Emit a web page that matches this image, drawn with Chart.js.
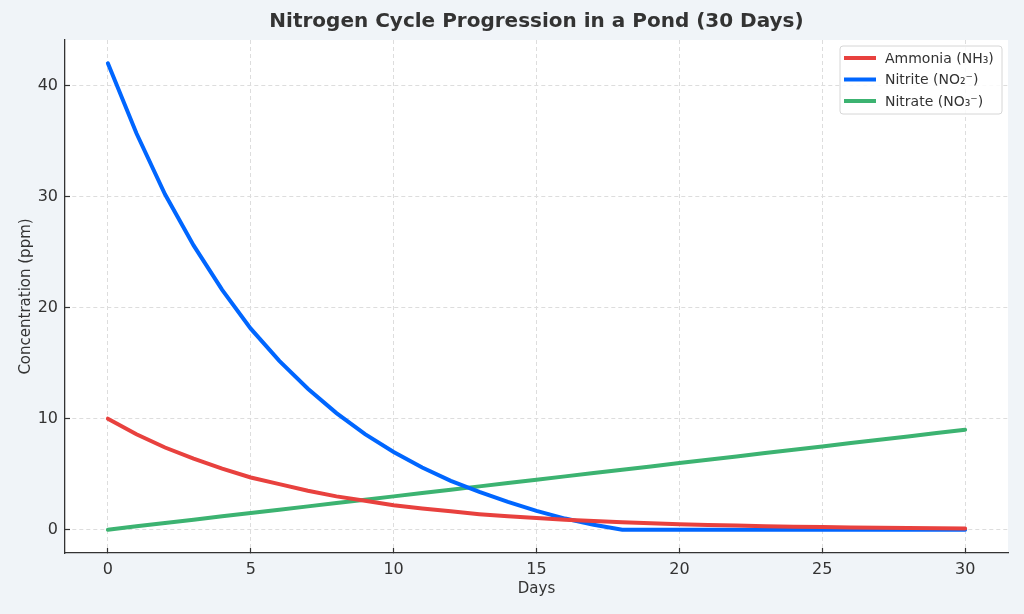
<!DOCTYPE html>
<html>
<head>
<meta charset="utf-8">
<script src="https://cdn.jsdelivr.net/npm/chart.js@4"></script>
<style>
  html, body { margin: 0; padding: 0; background: #f0f4f8; }
  #wrap { width: 1024px; height: 614px; }
</style>
</head>
<body>
<div id="wrap"><canvas id="nitrogenChart" width="1024" height="614"></canvas></div>
<script>
// Nitrogen cycle in a pond over 30 days, concentrations in ppm
const days = [0, 1, 2, 3, 4, 5, 6, 7, 8, 9, 10, 11, 12, 13, 14, 15, 16, 17, 18, 19, 20,
              21, 22, 23, 24, 25, 26, 27, 28, 29, 30];
const ammonia = [10.0, 8.6, 7.4, 6.4, 5.5, 4.7, 4.1, 3.5, 3.0, 2.6, 2.2, 1.9, 1.65, 1.4, 1.2, 1.05,
                 0.9, 0.78, 0.67, 0.57, 0.5, 0.43, 0.37, 0.32, 0.27, 0.24, 0.2, 0.17, 0.15, 0.13, 0.11];
const nitrite = [42.0, 35.7, 30.2, 25.6, 21.6, 18.1, 15.2, 12.7, 10.5, 8.6, 7.0, 5.6, 4.4, 3.4, 2.5, 1.7,
                 1.0, 0.45, 0, 0, 0, 0, 0, 0, 0, 0, 0, 0, 0, 0, 0];
const nitrate = [0, 0.3, 0.6, 0.9, 1.2, 1.5, 1.8, 2.1, 2.4, 2.7, 3.0, 3.3, 3.6, 3.9, 4.2, 4.5,
                 4.8, 5.1, 5.4, 5.7, 6.0, 6.3, 6.6, 6.9, 7.2, 7.5, 7.8, 8.1, 8.4, 8.7, 9.0];
const xTicks = [0, 5, 10, 15, 20, 25, 30];
const yTicks = [0, 10, 20, 30, 40];

const toPoints = vals => vals.map((v, i) => ({ x: days[i], y: v }));

// white plot area, title and an in-plot legend (matplotlib look)
const decor = {
    id: 'decor',
    beforeDraw(chart) {
        const { ctx, chartArea: a } = chart;
        ctx.save();
        ctx.fillStyle = '#ffffff';
        ctx.fillRect(a.left, a.top, a.right - a.left, a.bottom - a.top);
        ctx.restore();
    },
    afterDraw(chart) {
        const { ctx, chartArea: a } = chart;
        ctx.save();
        ctx.fillStyle = '#333333';
        ctx.font = 'bold 20px "DejaVu Sans"';
        ctx.textAlign = 'center';
        ctx.textBaseline = 'middle';
        ctx.fillText('Nitrogen Cycle Progression in a Pond (30 Days)', (a.left + a.right) / 2, 22);

        // legend box
        const bx = a.right - 168, by = a.top + 6, bw = 162, bh = 68;
        ctx.beginPath();
        ctx.roundRect(bx, by, bw, bh, 3);
        ctx.fillStyle = 'rgba(255,255,255,0.85)';
        ctx.fill();
        ctx.strokeStyle = '#d6d6d6';
        ctx.lineWidth = 1;
        ctx.stroke();
        ctx.font = '14px "DejaVu Sans"';
        ctx.textAlign = 'left';
        chart.data.datasets.forEach((ds, i) => {
            const y = by + 12 + i * 21.5;
            ctx.strokeStyle = ds.borderColor;
            ctx.lineWidth = 4;
            ctx.beginPath();
            ctx.moveTo(bx + 4, y);
            ctx.lineTo(bx + 36, y);
            ctx.stroke();
            ctx.fillStyle = '#333333';
            ctx.fillText(ds.label, bx + 45, y + 1);
        });
        ctx.restore();
    }
};

new Chart(document.getElementById('nitrogenChart'), {
    type: 'line',
    data: {
        datasets: [{
            label: 'Ammonia (NH₃)',
            data: toPoints(ammonia),
            borderColor: '#e8413e',
            borderWidth: 4
        }, {
            label: 'Nitrite (NO₂⁻)',
            data: toPoints(nitrite),
            borderColor: '#0066ff',
            borderWidth: 4
        }, {
            label: 'Nitrate (NO₃⁻)',
            data: toPoints(nitrate),
            borderColor: '#3cb371',
            borderWidth: 4
        }]
    },
    options: {
        responsive: false,
        animation: false,
        devicePixelRatio: 1,
        layout: { padding: { top: 40, right: 16, left: 0, bottom: 0 } },
        elements: { point: { radius: 0 }, line: { tension: 0, borderCapStyle: 'round' } },
        plugins: {
            legend: { display: false },
            title: { display: false },
            tooltip: { enabled: false }
        },
        scales: {
            x: {
                type: 'linear',
                min: -1.5,
                max: 31.5,
                afterBuildTicks: s => { s.ticks = xTicks.map(v => ({ value: v })); },
                afterFit: s => { s.height = 61; },
                // negative tick length -> ticks point into the plot, like matplotlib 'in'
                grid: { color: '#dddddd', tickColor: '#333333', tickLength: -5, tickWidth: 1.2 },
                border: { color: '#333333', width: 1.3, dash: [4, 3] },
                ticks: { color: '#333333', font: { family: 'DejaVu Sans', size: 16 }, padding: 12, maxRotation: 0 },
                title: {
                    display: true, text: 'Days', color: '#333333',
                    font: { family: 'DejaVu Sans', size: 15 }, padding: { top: 16, bottom: 16 }
                }
            },
            y: {
                min: -2.1,
                max: 44.1,
                afterBuildTicks: s => { s.ticks = yTicks.map(v => ({ value: v })); },
                afterFit: s => { s.width = 65; },
                grid: { color: '#dddddd', tickColor: '#333333', tickLength: -5, tickWidth: 1.2 },
                border: { color: '#333333', width: 1.3, dash: [4, 3] },
                ticks: { color: '#333333', font: { family: 'DejaVu Sans', size: 16 }, padding: 12 },
                title: {
                    display: true, text: 'Concentration (ppm)', color: '#333333',
                    font: { family: 'DejaVu Sans', size: 15 }, padding: { top: 17, bottom: 17 }
                }
            }
        }
    },
    plugins: [decor]
});
</script>
</body>
</html>
